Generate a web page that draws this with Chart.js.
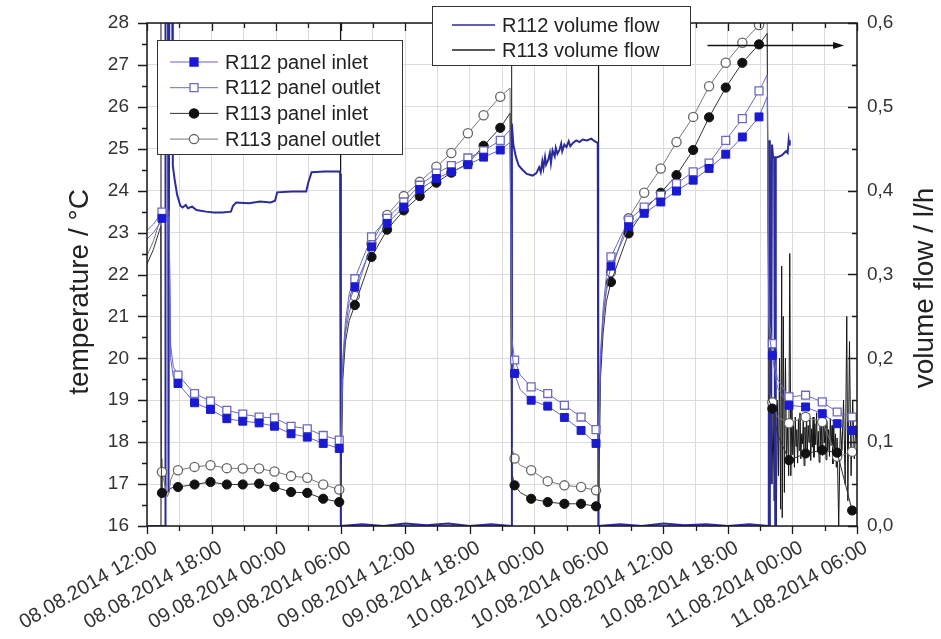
<!DOCTYPE html>
<html>
<head>
<meta charset="utf-8">
<script src="https://cdn.jsdelivr.net/npm/chart.js@4.4.0/dist/chart.umd.min.js"></script>
<style>
  html, body { margin: 0; padding: 0; background: #fff; }
</style>
</head>
<body>
<canvas id="chart" width="941" height="639"></canvas>
<script>
// time axis: hours since 08.08.2014 12:00
const xTickLabels = ['08.08.2014 12:00', '08.08.2014 18:00', '09.08.2014 00:00', '09.08.2014 06:00',
  '09.08.2014 12:00', '09.08.2014 18:00', '10.08.2014 00:00', '10.08.2014 06:00',
  '10.08.2014 12:00', '10.08.2014 18:00', '11.08.2014 00:00', '11.08.2014 06:00'];
const flowTickLabels = ['0,0', '0,1', '0,2', '0,3', '0,4', '0,5', '0,6'];

// panel temperatures (°C)
const tempHours = [0, 0.6, 1.15, 1.28, 1.34, 1.39, 1.9, 2.05, 2.2, 2.45, 2.88, 4.42, 5.9, 7.42, 8.9, 10.42,
  11.85, 13.39, 14.9, 16.38, 17.87, 18.02, 18.2, 18.45, 18.8, 19.32, 20.87, 22.32, 23.87, 25.35, 26.9,
  28.29, 29.83, 31.29, 32.84, 33.75, 33.9, 34.17, 34.7, 35.71, 37.25, 38.8, 40.35, 41.74, 41.98, 42.15,
  42.4, 42.7, 43.13, 44.77, 46.22, 47.76, 49.22, 50.77, 52.25, 53.8, 55.34, 56.89, 57.65, 57.82, 58.13,
  58.6, 59.68, 61.22, 62.77, 64.16, 65.55, 66];
const r112Inlet = [22.85, 23.0, 23.2, 23.3, 23.32, 23.34, 23.4, 23.3, 20.0, 19.55, 19.4, 18.94, 18.78, 18.56, 18.5, 18.46,
  18.38, 18.2, 18.12, 17.97, 17.85, 17.9, 19.8, 20.7, 21.35, 21.7, 22.66, 23.22, 23.61, 24.03, 24.29,
  24.45, 24.62, 24.8, 24.97, 25.15, 20.2, 19.64, 19.25, 19.0, 18.86, 18.59, 18.28, 17.97, 17.95, 19.9,
  21.0, 21.7, 22.2, 23.14, 23.46, 23.73, 23.99, 24.25, 24.53, 24.87, 25.28, 25.76, 26.24, 20.6, 20.07,
  19.3, 18.88, 18.84, 18.68, 18.44, 18.28, 18.22];
const r112Outlet = [23.05, 23.2, 23.4, 23.45, 23.47, 23.49, 23.55, 23.5, 20.3, 19.8, 19.6, 19.16, 18.98, 18.76, 18.67, 18.6,
  18.58, 18.38, 18.32, 18.16, 18.05, 18.1, 20.0, 20.9, 21.55, 21.9, 22.9, 23.34, 23.73, 24.13, 24.42,
  24.6, 24.78, 24.95, 25.2, 25.45, 20.5, 19.96, 19.6, 19.32, 19.16, 18.88, 18.6, 18.3, 18.28, 20.1,
  21.2, 21.95, 22.42, 23.3, 23.61, 23.89, 24.17, 24.45, 24.66, 25.2, 25.72, 26.38, 26.76, 20.9, 20.35,
  19.5, 19.08, 19.12, 18.96, 18.72, 18.6, 18.52];
const r113Inlet = [22.25, 22.6, 23.05, 23.15, 17.2, 16.79, 16.8, 16.85, 16.9, 16.92, 16.93, 16.99, 17.05, 16.99, 16.99, 17.01,
  16.93, 16.81, 16.79, 16.65, 16.57, 16.7, 19.5, 20.4, 20.9, 21.27, 22.42, 23.07, 23.53, 23.87, 24.19,
  24.43, 24.65, 25.07, 25.5, 25.85, 17.3, 16.97, 16.8, 16.65, 16.57, 16.53, 16.53, 16.47, 16.47, 19.5,
  20.6, 21.35, 21.82, 22.98, 23.53, 23.95, 24.37, 24.97, 25.75, 26.46, 27.05, 27.49, 27.75, 19.0, 18.8,
  18.2, 17.57, 17.73, 17.81, 17.75, 16.37, 16.3];
const r113Outlet = [22.45, 22.8, 23.25, 23.3, 17.6, 17.29, 16.7, 16.8, 17.1, 17.25, 17.33, 17.41, 17.45, 17.38, 17.37, 17.37,
  17.3, 17.19, 17.15, 16.99, 16.87, 17.0, 19.7, 20.6, 21.1, 21.49, 22.74, 23.42, 23.87, 24.21, 24.57,
  24.9, 25.37, 25.8, 26.24, 26.45, 17.9, 17.61, 17.45, 17.33, 17.07, 16.97, 16.93, 16.85, 16.84, 19.7,
  20.9, 21.6, 22.06, 23.34, 23.95, 24.53, 25.16, 25.76, 26.49, 27.05, 27.53, 27.95, 28.15, 19.2, 18.95,
  18.6, 18.45, 18.6, 18.48, 17.65, 17.77, 17.8];
// samples that carry a symbol
const markerHours = [1.39, 2.88, 4.42, 5.9, 7.42, 8.9, 10.42, 11.85, 13.39, 14.9, 16.38, 17.87,
  19.32, 20.87, 22.32, 23.87, 25.35, 26.9, 28.29, 29.83, 31.29, 32.84,
  34.17, 35.71, 37.25, 38.8, 40.35, 41.74,
  43.13, 44.77, 46.22, 47.76, 49.22, 50.77, 52.25, 53.8, 55.34, 56.89,
  58.13, 59.68, 61.22, 62.77, 64.16, 65.55];

// volume flow (l/h)
const flow112Hours = [0, 1.68, 1.72, 1.95, 2.0, 2.08, 2.33, 2.4, 2.55, 2.8, 3.1, 3.3, 3.6, 3.8, 4.2, 4.6, 5.0,
  5.5, 6.2, 7.0, 7.8, 8.0, 8.3, 9.5, 10.5, 11.5, 11.9, 12.1, 13.5, 14.8, 15.0, 15.3, 16.5, 17.9, 17.95,
  18.02, 20, 22, 24, 26, 28, 30, 32, 33.85, 33.92, 34.05, 34.3, 34.55, 34.9, 35.3, 35.85, 36.2, 36.45,
  36.6, 36.75, 36.85, 37.0, 37.1, 37.3, 37.45, 37.55, 37.7, 37.9, 38.0, 38.15, 38.35, 38.5, 38.6, 38.8,
  39.0, 39.2, 39.35, 39.6, 39.9, 40.2, 40.5, 40.9, 41.3, 41.6, 41.9, 41.96, 44, 46, 48, 50, 52, 54, 56, 57.78,
  57.8, 57.85, 57.9, 58.0, 58.1, 58.2, 58.3, 58.4, 58.45, 58.6, 59.0, 59.4, 59.55, 59.65, 59.7, 59.75];
const flow112 = [0, 0, 0.7, 0.7, 0.04, 0.7, 0.7, 0.43, 0.415, 0.395, 0.382, 0.38, 0.383, 0.379, 0.381, 0.377, 0.376,
  0.375, 0.374, 0.374, 0.375, 0.382, 0.386, 0.385, 0.387, 0.386, 0.388, 0.398, 0.399, 0.399, 0.41, 0.422, 0.423, 0.423, 0.42,
  0, 0.002, 0, 0.003, 0.001, 0.003, 0, 0.002, 0, 0.48, 0.455, 0.44, 0.43, 0.425, 0.42, 0.418, 0.421, 0.428,
  0.422, 0.435, 0.427, 0.44, 0.431, 0.437, 0.445, 0.433, 0.448, 0.441, 0.451, 0.444, 0.449, 0.456, 0.447, 0.455,
  0.452, 0.459, 0.453, 0.457, 0.46, 0.458, 0.461, 0.46, 0.462, 0.459, 0.457, 0, 0.002, 0, 0.003, 0.001, 0.002, 0, 0.002, 0,
  0.46, 0, 0.46, 0.05, 0.455, 0.44, 0.44, 0, 0.44, 0.44, 0.442, 0.447, 0.445, 0.46, 0.455, 0.46];
const flow113Hours = [0, 1.28, 1.3, 17.98, 18.0, 33.85, 33.9, 41.96, 41.98, 57.8,
  58.0, 58.1, 58.2, 58.3, 58.4, 58.5, 58.6, 58.7, 58.8, 58.9, 59.0, 59.05, 59.15, 59.25, 59.35, 59.45,
  59.55, 59.65, 59.75, 59.85, 59.95, 60.03, 60.1, 60.18, 60.26, 60.33, 60.4, 60.48, 60.56, 60.63, 60.7,
  60.78, 60.86, 60.93, 61.0, 61.08, 61.16, 61.24, 61.31, 61.38, 61.46, 61.54, 61.62, 61.7, 61.78, 61.85,
  61.92, 62.0, 62.08, 62.16, 62.24, 62.32, 62.4, 62.48, 62.56, 62.64, 62.72, 62.8, 62.88, 62.96, 63.04,
  63.12, 63.2, 63.28, 63.36, 63.44, 63.52, 63.6, 63.68, 63.76, 63.84, 63.92, 64.0, 64.08, 64.15, 64.3,
  64.45, 64.6, 64.75, 64.9, 65.05, 65.15, 65.3, 65.45, 65.6, 65.75, 65.9, 66.0];
const flow113 = [0, 0, 0.7, 0.7, 0, 0, 0.7, 0.7, 0, 0,
  0.13, 0.05, 0.14, 0.03, 0.12, 0.0, 0.15, 0.06, 0.2, 0.02, 0.31, 0.01, 0.25, 0.04, 0.2, 0.08,
  0.12, 0.06, 0.325, 0.06, 0.14, 0.085, 0.12, 0.07, 0.13, 0.095, 0.115, 0.075, 0.128, 0.09, 0.135,
  0.08, 0.11, 0.098, 0.125, 0.072, 0.118, 0.092, 0.132, 0.085, 0.12, 0.1, 0.127, 0.078, 0.116, 0.094,
  0.13, 0.082, 0.122, 0.097, 0.135, 0.088, 0.113, 0.076, 0.126, 0.093, 0.118, 0.084, 0.131, 0.099, 0.12,
  0.079, 0.125, 0.09, 0.115, 0.083, 0.128, 0.096, 0.12, 0.074, 0.117, 0.088, 0.11, 0.07, 0.105, 0.0,
  0.12, 0.09, 0.15, 0.05, 0.25, 0.03, 0.22, 0.06, 0.15, 0.08, 0.12, 0.1];

const FONT = "'Liberation Sans', Arial, sans-serif";

const pts = (xs, ys) => xs.map((h, i) => ({ x: h, y: ys[i] }));
const markerRadius = r => ctx => markerHours.includes(tempHours[ctx.dataIndex]) ? r : 0;

// frame, ticks on all four sides, legends, arrow and axis titles
const decorations = {
  id: 'decorations',
  afterDraw(chart) {
    const { ctx, chartArea: a, scales } = chart;
    const x = scales.x, y = scales.y, y1 = scales.y1;
    ctx.save();

    ctx.strokeStyle = '#1a1a1a';
    ctx.lineWidth = 1.5;
    ctx.strokeRect(a.left, a.top, a.right - a.left, a.bottom - a.top);

    ctx.lineWidth = 1.3;
    ctx.beginPath();
    for (let h = 0; h <= 66; h += 3) {
      const px = Math.round(x.getPixelForValue(h)) + 0.5;
      const len = h % 6 === 0 ? 8 : 5;
      ctx.moveTo(px, a.bottom); ctx.lineTo(px, a.bottom + len);
      ctx.moveTo(px, a.top); ctx.lineTo(px, a.top + len);
    }
    for (let i = 0; i <= 24; i++) {
      const py = Math.round(y.getPixelForValue(16 + i * 0.5)) + 0.5;
      const len = i % 2 === 0 ? 9 : 5;
      ctx.moveTo(a.left - len, py); ctx.lineTo(a.left, py);
    }
    for (let i = 0; i <= 12; i++) {
      const py = Math.round(y1.getPixelForValue(i * 0.05)) + 0.5;
      const len = i % 2 === 0 ? 9 : 5;
      ctx.moveTo(a.right - len, py); ctx.lineTo(a.right, py);
    }
    ctx.stroke();

    // temperature legend
    const legend1 = [
      { text: 'R112 panel inlet', line: '#6464cc', shape: 'rect', fill: '#1a1ad2', stroke: '#1a1ad2' },
      { text: 'R112 panel outlet', line: '#6a6ac4', shape: 'rect', fill: '#fff', stroke: '#6a6ac4' },
      { text: 'R113 panel inlet', line: '#333', shape: 'circle', fill: '#111', stroke: '#111' },
      { text: 'R113 panel outlet', line: '#777', shape: 'circle', fill: '#fff', stroke: '#666' }
    ];
    ctx.fillStyle = '#fff';
    ctx.fillRect(157, 40, 245, 114);
    ctx.strokeStyle = '#333';
    ctx.lineWidth = 1;
    ctx.strokeRect(157.5, 40.5, 245, 114);
    ctx.font = '20px ' + FONT;
    ctx.textBaseline = 'middle';
    legend1.forEach((it, i) => {
      const ly = 62 + i * 25.7;
      ctx.strokeStyle = it.line;
      ctx.lineWidth = 1;
      ctx.beginPath(); ctx.moveTo(170, ly); ctx.lineTo(218, ly); ctx.stroke();
      ctx.fillStyle = it.fill;
      ctx.strokeStyle = it.stroke;
      ctx.lineWidth = 1.3;
      ctx.beginPath();
      if (it.shape === 'rect') ctx.rect(190, ly - 4, 8, 8);
      else ctx.arc(194, ly, 4.6, 0, Math.PI * 2);
      ctx.fill(); ctx.stroke();
      ctx.fillStyle = '#222';
      ctx.fillText(it.text, 225, ly + 1);
    });

    // volume flow legend
    const legend2 = [
      { text: 'R112 volume flow', line: '#2b2b9c' },
      { text: 'R113 volume flow', line: '#222' }
    ];
    ctx.fillStyle = '#fff';
    ctx.fillRect(432, 6, 258, 59);
    ctx.strokeStyle = '#333';
    ctx.lineWidth = 1;
    ctx.strokeRect(432.5, 6.5, 258, 59);
    legend2.forEach((it, i) => {
      const ly = 25 + i * 25;
      ctx.strokeStyle = it.line;
      ctx.lineWidth = 1.3;
      ctx.beginPath(); ctx.moveTo(452, ly); ctx.lineTo(495, ly); ctx.stroke();
      ctx.fillStyle = '#222';
      ctx.fillText(it.text, 502, ly + 1);
    });

    // arrow pointing at the flow axis
    const ax0 = x.getPixelForValue(52.1), ax1 = x.getPixelForValue(64.8);
    const ay = Math.round(y.getPixelForValue(27.47)) + 0.5;
    ctx.strokeStyle = '#111';
    ctx.fillStyle = '#111';
    ctx.lineWidth = 1.3;
    ctx.beginPath(); ctx.moveTo(ax0, ay); ctx.lineTo(ax1 - 8, ay); ctx.stroke();
    ctx.beginPath();
    ctx.moveTo(ax1, ay); ctx.lineTo(ax1 - 11, ay - 3.5); ctx.lineTo(ax1 - 11, ay + 3.5);
    ctx.closePath(); ctx.fill();

    // axis titles
    ctx.fillStyle = '#222';
    ctx.font = '28px ' + FONT;
    ctx.textAlign = 'center';
    ctx.textBaseline = 'alphabetic';
    ctx.translate(88, 292);
    ctx.rotate(-Math.PI / 2);
    ctx.fillText('temperature / °C', 0, 0);
    ctx.setTransform(1, 0, 0, 1, 0, 0);
    ctx.translate(933, 288);
    ctx.rotate(-Math.PI / 2);
    ctx.fillText('volume flow / l/h', 0, 0);
    ctx.restore();
  }
};

new Chart(document.getElementById('chart'), {
  type: 'line',
  data: {
    datasets: [
      {
        label: 'R112 panel inlet', data: pts(tempHours, r112Inlet), yAxisID: 'y',
        borderColor: '#6464cc', borderWidth: 1, pointStyle: 'rect',
        pointRadius: markerRadius(5.6), pointBackgroundColor: '#1a1ad2', pointBorderColor: '#1a1ad2', pointBorderWidth: 1
      },
      {
        label: 'R112 panel outlet', data: pts(tempHours, r112Outlet), yAxisID: 'y',
        borderColor: '#6a6ac4', borderWidth: 1, pointStyle: 'rect',
        pointRadius: markerRadius(5.6), pointBackgroundColor: '#fff', pointBorderColor: '#6a6ac4', pointBorderWidth: 1.3
      },
      {
        label: 'R113 panel inlet', data: pts(tempHours, r113Inlet), yAxisID: 'y',
        borderColor: '#333', borderWidth: 1, pointStyle: 'circle',
        pointRadius: markerRadius(4.6), pointBackgroundColor: '#111', pointBorderColor: '#111', pointBorderWidth: 1
      },
      {
        label: 'R113 panel outlet', data: pts(tempHours, r113Outlet), yAxisID: 'y',
        borderColor: '#777', borderWidth: 1, pointStyle: 'circle',
        pointRadius: markerRadius(4.6), pointBackgroundColor: '#fff', pointBorderColor: '#666', pointBorderWidth: 1.3
      },
      {
        label: 'R112 volume flow', data: pts(flow112Hours, flow112), yAxisID: 'y1',
        borderColor: '#2b2b9c', borderWidth: 2, pointRadius: 0
      },
      {
        label: 'R113 volume flow', data: pts(flow113Hours, flow113), yAxisID: 'y1',
        borderColor: '#151515', borderWidth: 1, pointRadius: 0
      }
    ]
  },
  options: {
    responsive: false,
    animation: false,
    events: [],
    layout: { padding: { top: 23, left: 0, right: 0, bottom: 0 } },
    plugins: { legend: { display: false }, tooltip: { enabled: false } },
    scales: {
      x: {
        type: 'linear', min: 0, max: 66,
        afterFit: s => { s.height = 113; },
        border: { display: false },
        grid: { color: '#dcdcdc', tickLength: 10, tickColor: 'rgba(0,0,0,0)' },
        ticks: {
          stepSize: 3, autoSkip: false, minRotation: 30, maxRotation: 30, labelOffset: 9, padding: 0,
          color: '#333', font: { family: FONT, size: 20 },
          callback: v => (v % 6 === 0 ? xTickLabels[v / 6] : '')
        }
      },
      y: {
        position: 'left', min: 16, max: 28,
        afterFit: s => { s.width = 147; },
        border: { display: false },
        grid: { color: '#dcdcdc', tickLength: 10, tickColor: 'rgba(0,0,0,0)' },
        ticks: { stepSize: 1, padding: 8, color: '#333', font: { family: FONT, size: 19 } }
      },
      y1: {
        position: 'right', min: 0, max: 0.6,
        afterFit: s => { s.width = 84; },
        border: { display: false },
        grid: { drawOnChartArea: false, drawTicks: false },
        ticks: {
          stepSize: 0.1, padding: 10, color: '#333', font: { family: FONT, size: 19 },
          callback: v => flowTickLabels[Math.round(v * 10)]
        }
      }
    }
  },
  plugins: [decorations]
});
</script>
</body>
</html>
